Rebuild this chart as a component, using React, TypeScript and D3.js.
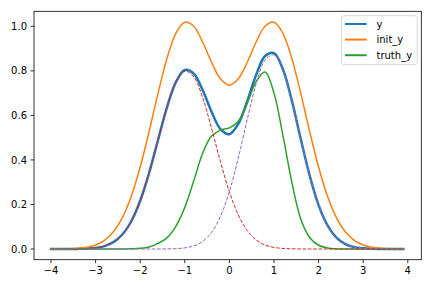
import React from 'react';
import * as d3 from 'd3';

// sample positions
const xs = [
  -4.0, -3.8, -3.6, -3.4, -3.2, -3.0, -2.8, -2.6, -2.4, -2.2,
  -2.0, -1.8, -1.6, -1.4, -1.2, -1.0, -0.8, -0.6, -0.4, -0.2,
  0.0, 0.2, 0.4, 0.6, 0.8, 1.0, 1.2, 1.4, 1.6, 1.8,
  2.0, 2.2, 2.4, 2.6, 2.8, 3.0, 3.2, 3.4, 3.6, 3.8, 3.9,
];

// series "y" (fitted)
const yFit = [
  0.0, 0.0, 0.0002, 0.0006, 0.0018, 0.0051, 0.0132, 0.0307, 0.065, 0.1246,
  0.2167, 0.3418, 0.4894, 0.6356, 0.7496, 0.8039, 0.7878, 0.714, 0.6167, 0.5383,
  0.5154, 0.562, 0.6639, 0.7819, 0.8667, 0.8792, 0.8068, 0.6664, 0.4947, 0.3297,
  0.1972, 0.106, 0.051, 0.0221, 0.0086, 0.003, 0.0009, 0.0003, 0.0001, 0.0, 0.0,
];

// series "init_y"
const initY = [
  0.0001, 0.0004, 0.0012, 0.0032, 0.0079, 0.0183, 0.0392, 0.0773, 0.1409, 0.2369,
  0.368, 0.5277, 0.6989, 0.8553, 0.9687, 1.0183, 1.0, 0.9294, 0.8386, 0.7642,
  0.7358, 0.7642, 0.8386, 0.9294, 1.0, 1.0183, 0.9687, 0.8553, 0.6989, 0.5277,
  0.368, 0.2369, 0.1409, 0.0773, 0.0392, 0.0183, 0.0079, 0.0032, 0.0012, 0.0004, 0.0002,
];

// series "truth_y"
const truthY = [
  0.0, 0.0, 0.0, 0.0, 0.0, 0.0, 0.0, 0.0, 0.0003, 0.001,
  0.003, 0.009, 0.025, 0.05, 0.102, 0.187, 0.305, 0.43, 0.507, 0.534,
  0.544, 0.574, 0.654, 0.752, 0.795, 0.7, 0.51, 0.3, 0.135, 0.052,
  0.017, 0.005, 0.001, 0.0, 0.0, 0.0, 0.0, 0.0, 0.0, 0.0, 0.0,
];

// dashed component 1 (red)
const comp1 = [
  0.0, 0.0, 0.0002, 0.0006, 0.0018, 0.0051, 0.0132, 0.0307, 0.065, 0.1246,
  0.2167, 0.3418, 0.4893, 0.6351, 0.7479, 0.7988, 0.7738, 0.68, 0.5421, 0.3918,
  0.257, 0.1529, 0.0825, 0.0403, 0.0179, 0.0072, 0.0026, 0.0009, 0.0003, 0.0001,
  0.0, 0.0, 0.0, 0.0, 0.0, 0.0, 0.0, 0.0, 0.0, 0.0, 0.0,
];

// dashed component 2 (purple)
const comp2 = [
  0.0, 0.0, 0.0, 0.0, 0.0, 0.0, 0.0, 0.0, 0.0, 0.0,
  0.0, 0.0, 0.0001, 0.0005, 0.0017, 0.0051, 0.014, 0.034, 0.0746, 0.1465,
  0.2584, 0.4091, 0.5814, 0.7416, 0.8488, 0.872, 0.8042, 0.6655, 0.4944, 0.3296,
  0.1972, 0.106, 0.051, 0.0221, 0.0086, 0.003, 0.0009, 0.0003, 0.0001, 0.0, 0.0,
];

const xTicks = [-4, -3, -2, -1, 0, 1, 2, 3, 4];
const yTicks = [0.0, 0.2, 0.4, 0.6, 0.8, 1.0];
const legendLabels = ['y', 'init_y', 'truth_y'];

const W = 432;
const H = 288;
const L = 34, R = 421.3, T = 11.3, B = 259.7;
const FONT = 'DejaVu Sans, sans-serif';

const fmtX = (v: number) => (v < 0 ? '\u2212' + Math.abs(v) : String(v));

export default function App() {
  const x = d3.scaleLinear().domain([-4.381, 4.303]).range([L, R]);
  const y = d3.scaleLinear().domain([-0.048, 1.0674]).range([B, T]);
  const line = (vals: number[]) =>
    d3
      .line<number>()
      .x((_, i) => x(xs[i]))
      .y((v) => y(v))
      .curve(d3.curveCatmullRom.alpha(0.5))(vals) as string;

  const series = [
    { vals: yFit, color: '#1f77b4', w: 2.5, dash: undefined as string | undefined },
    { vals: initY, color: '#ff7f0e', w: 1.5, dash: undefined },
    { vals: truthY, color: '#2ca02c', w: 1.5, dash: undefined },
    { vals: comp1, color: '#d62728', w: 1, dash: '3.7,1.6' },
    { vals: comp2, color: '#9467bd', w: 1, dash: '3.7,1.6' },
  ];

  const legX = 341.7, legY = 15.7, legW = 75.6, legH = 49;
  const legRows = [24, 39.6, 55.2];

  return (
    <svg
      width={W}
      height={H}
      style={{ position: 'absolute', left: 0, top: 0, background: '#fff' }}
      fontFamily={FONT}
      fontSize={10}
    >
      <rect x={0} y={0} width={W} height={H} fill="#fff" />
      {series.map((s, i) => (
        <path
          key={i}
          d={line(s.vals)}
          fill="none"
          stroke={s.color}
          strokeWidth={s.w}
          strokeDasharray={s.dash}
          strokeLinejoin="round"
          strokeLinecap={s.dash ? 'butt' : 'square'}
        />
      ))}
      <rect x={L} y={T} width={R - L} height={B - T} fill="none" stroke="#000" strokeWidth={0.8} />
      {xTicks.map((t) => (
        <g key={'x' + t}>
          <line x1={x(t)} x2={x(t)} y1={B} y2={B + 3.5} stroke="#000" strokeWidth={0.8} />
          <text x={x(t)} y={B + 14.6} textAnchor="middle" fill="#000">
            {fmtX(t)}
          </text>
        </g>
      ))}
      {yTicks.map((t) => (
        <g key={'y' + t}>
          <line x1={L - 3.5} x2={L} y1={y(t)} y2={y(t)} stroke="#000" strokeWidth={0.8} />
          <text x={L - 7} y={y(t) + 3.6} textAnchor="end" fill="#000">
            {t.toFixed(1)}
          </text>
        </g>
      ))}
      <rect
        x={legX}
        y={legY}
        width={legW}
        height={legH}
        rx={2.5}
        fill="#fff"
        fillOpacity={0.8}
        stroke="#cccccc"
        strokeWidth={0.8}
      />
      {legendLabels.map((lab, i) => {
        const ly = legRows[i];
        return (
          <g key={lab}>
            <line
              x1={345}
              x2={366.7}
              y1={ly}
              y2={ly}
              stroke={series[i].color}
              strokeWidth={2}
            />
            <text x={376.5} y={ly + 3.6} fill="#000">
              {lab}
            </text>
          </g>
        );
      })}
    </svg>
  );
}
